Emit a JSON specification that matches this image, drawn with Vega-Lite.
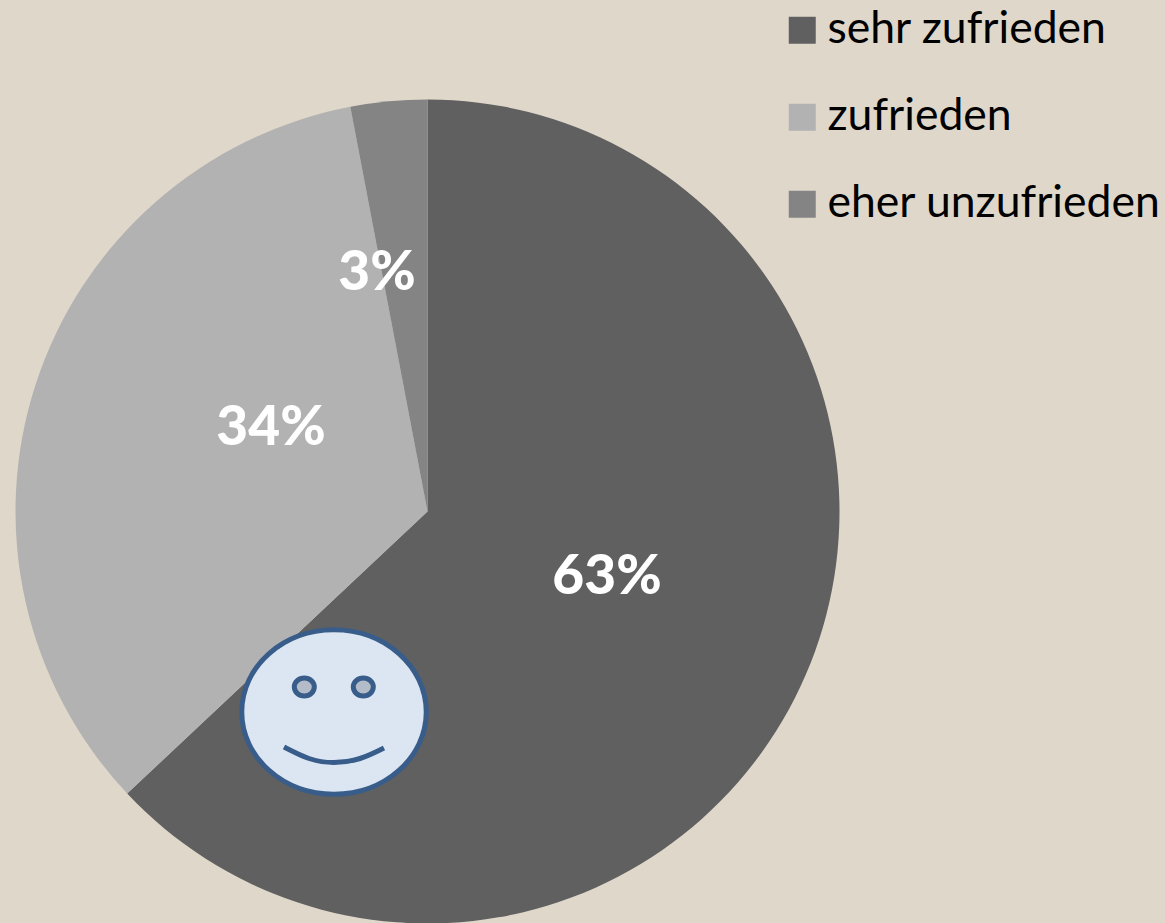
{
"$schema":"https://vega.github.io/schema/vega-lite/v6.json",
"width":825,"height":823,
"autosize":{"type":"none"},
"padding":{"left":15,"top":100,"right":325,"bottom":0},
"background":"#dfd7ca",
"view":{"stroke":null},
"datasets":{
"slices":[
{"Bewertung":"sehr zufrieden","Anteil":63,"Reihe":1},
{"Bewertung":"zufrieden","Anteil":34,"Reihe":2},
{"Bewertung":"eher unzufrieden","Anteil":3,"Reihe":3}],
"labels":[
{"Text":"63%","a":607,"b":577},
{"Text":"34%","a":271,"b":428},
{"Text":"3%","a":377,"b":273}],
"face":[{"a":334,"b":712}],
"eyes":[{"a":304.3,"b":687},{"a":363.3,"b":687}],
"smile":[
{"a":284,"b":747},{"a":309,"b":758.5},{"a":334,"b":762.5},{"a":360,"b":758.5},{"a":384,"b":748}]
},
"layer":[
{"data":{"name":"slices"},
 "mark":{"type":"arc","radius":412},
 "encoding":{
  "theta":{"field":"Anteil","type":"quantitative","stack":true,"scale":{"domain":[0,100]}},
  "order":{"field":"Reihe","type":"ordinal"},
  "color":{"field":"Bewertung","type":"nominal",
   "scale":{"domain":["sehr zufrieden","zufrieden","eher unzufrieden"],"range":["#606060","#b2b2b2","#848484"]},
   "legend":{"title":null,"orient":"none","legendX":765,"legendY":-92,"symbolType":"square","symbolSize":729,"symbolStrokeWidth":0,"labelFont":"Lato","labelFontSize":44.5,"labelColor":"#000000","labelLimit":400,"labelOffset":3,"rowPadding":42,"padding":0}}
 }},
{"data":{"name":"face"},
 "mark":{"type":"point","shape":"M-1,0A1,0.892,0,1,1,1,0A1,0.892,0,1,1,-1,0Z","size":34040,"filled":true,"fill":"#dce6f2","stroke":"#385d8a","strokeWidth":5,"opacity":1},
 "encoding":{"x":{"field":"a","type":"quantitative","scale":{"domain":[15,840],"nice":false,"zero":false},"axis":null},
 "y":{"field":"b","type":"quantitative","scale":{"domain":[923,100],"nice":false,"zero":false},"axis":null}}},
{"data":{"name":"eyes"},
 "mark":{"type":"point","shape":"M-1,0A1,0.9,0,1,1,1,0A1,0.9,0,1,1,-1,0Z","size":400,"filled":true,"fill":"#b3bcc8","stroke":"#385d8a","strokeWidth":5,"opacity":1},
 "encoding":{"x":{"field":"a","type":"quantitative","axis":null},"y":{"field":"b","type":"quantitative","axis":null}}},
{"data":{"name":"smile"},
 "mark":{"type":"line","interpolate":"natural","stroke":"#385d8a","strokeWidth":5},
 "encoding":{"x":{"field":"a","type":"quantitative","axis":null},"y":{"field":"b","type":"quantitative","axis":null}}},
{"data":{"name":"labels"},
 "mark":{"type":"text","font":"Lato","fontWeight":900,"fontSize":55,"fill":"#ffffff","align":"center","baseline":"middle"},
 "encoding":{"x":{"field":"a","type":"quantitative","axis":null},"y":{"field":"b","type":"quantitative","axis":null},"text":{"field":"Text","type":"nominal"}}}
]
}
